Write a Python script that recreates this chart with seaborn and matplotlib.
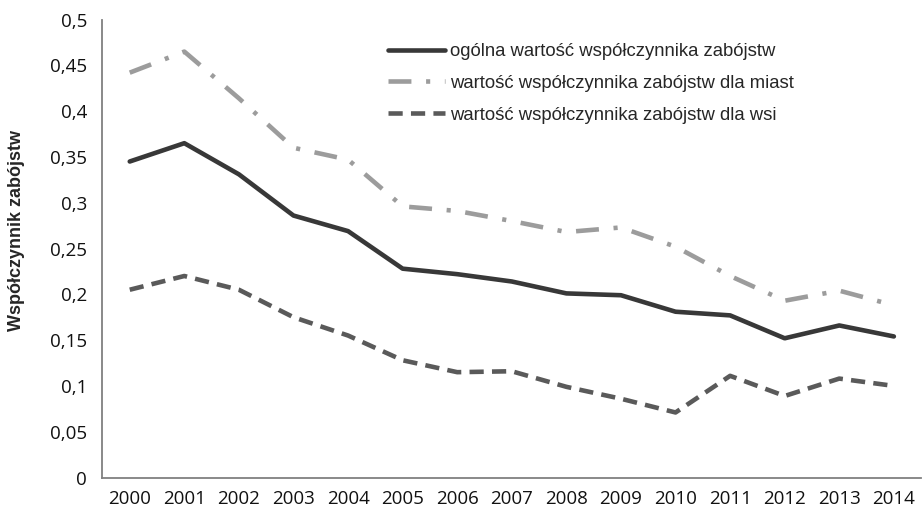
import pandas as pd
import matplotlib.pyplot as plt
import seaborn as sns

# Data
years = [str(y) for y in range(2000, 2015)]
ogolna = [0.345, 0.365, 0.331, 0.286, 0.269, 0.228, 0.222, 0.214, 0.201, 0.199, 0.181, 0.177, 0.152, 0.166, 0.154]
miasta = [0.442, 0.465, 0.414, 0.360, 0.347, 0.296, 0.291, 0.280, 0.268, 0.273, 0.252, 0.220, 0.193, 0.204, 0.188]
wies = [0.205, 0.220, 0.205, 0.175, 0.155, 0.128, 0.115, 0.116, 0.099, 0.086, 0.071, 0.111, 0.089, 0.108, 0.100]
yticks = [0, 0.05, 0.1, 0.15, 0.2, 0.25, 0.3, 0.35, 0.4, 0.45, 0.5]

labels = ["ogólna wartość współczynnika zabójstw",
          "wartość współczynnika zabójstw dla miast",
          "wartość współczynnika zabójstw dla wsi"]

df = pd.DataFrame({"x": range(len(years)), labels[0]: ogolna, labels[1]: miasta, labels[2]: wies})

sns.set_style("white")
plt.rcParams['font.family'] = ['Open Sans', 'DejaVu Sans']

fig = plt.figure(figsize=(9.23, 5.14), dpi=100)
ax = fig.add_axes([0.111, 0.071, 0.887, 0.891])

styles = [
    dict(color="#383838", dashes=None),
    dict(color="#9c9c9c", dashes=(5, 3.2, 0.9, 3.2)),
    dict(color="#5a5a5a", dashes=(3.1, 1.8)),
]
for lab, st in zip(labels, styles):
    sns.lineplot(x="x", y=lab, data=df, ax=ax, color=st["color"], linewidth=3.3, label=lab)
    if st["dashes"] is not None:
        ax.lines[-1].set_dashes(st["dashes"])

ax.set_xlim(-0.5, len(years) - 0.5)
ax.set_ylim(0, 0.5)
ax.set_yticks(yticks)
ax.set_yticklabels([("%g" % v).replace(".", ",") for v in yticks], fontsize=13.5, color="#111111")
ax.set_xticks(range(len(years)))
ax.set_xticklabels(years, fontsize=13.5, color="#111111")
ax.set_xticks([i - 0.5 for i in range(len(years) + 1)], minor=True)
ax.tick_params(axis="x", which="major", length=0, pad=9)
ax.tick_params(axis="x", which="minor", length=6, width=1.3, color="#808080", direction="out")
ax.tick_params(axis="y", length=6, width=1.3, color="#808080", direction="out", pad=5)
ax.set_xlabel("")
ax.set_ylabel("Współczynnik zabójstw", fontsize=13, fontweight="bold",
              family=["Liberation Sans", "DejaVu Sans"])
ax.yaxis.set_label_coords(-0.095, 0.54)

for side in ["top", "right"]:
    ax.spines[side].set_visible(False)
for side in ["left", "bottom"]:
    ax.spines[side].set_color("#808080")
    ax.spines[side].set_linewidth(1.3)

leg = ax.legend(loc="upper left", bbox_to_anchor=(0.328, 0.985), frameon=False,
                prop={"family": ["Liberation Sans", "DejaVu Sans"], "size": 13.3},
                handlelength=3.1, handletextpad=0.3, labelspacing=0.8)

fig.savefig("out.png", dpi=100)
